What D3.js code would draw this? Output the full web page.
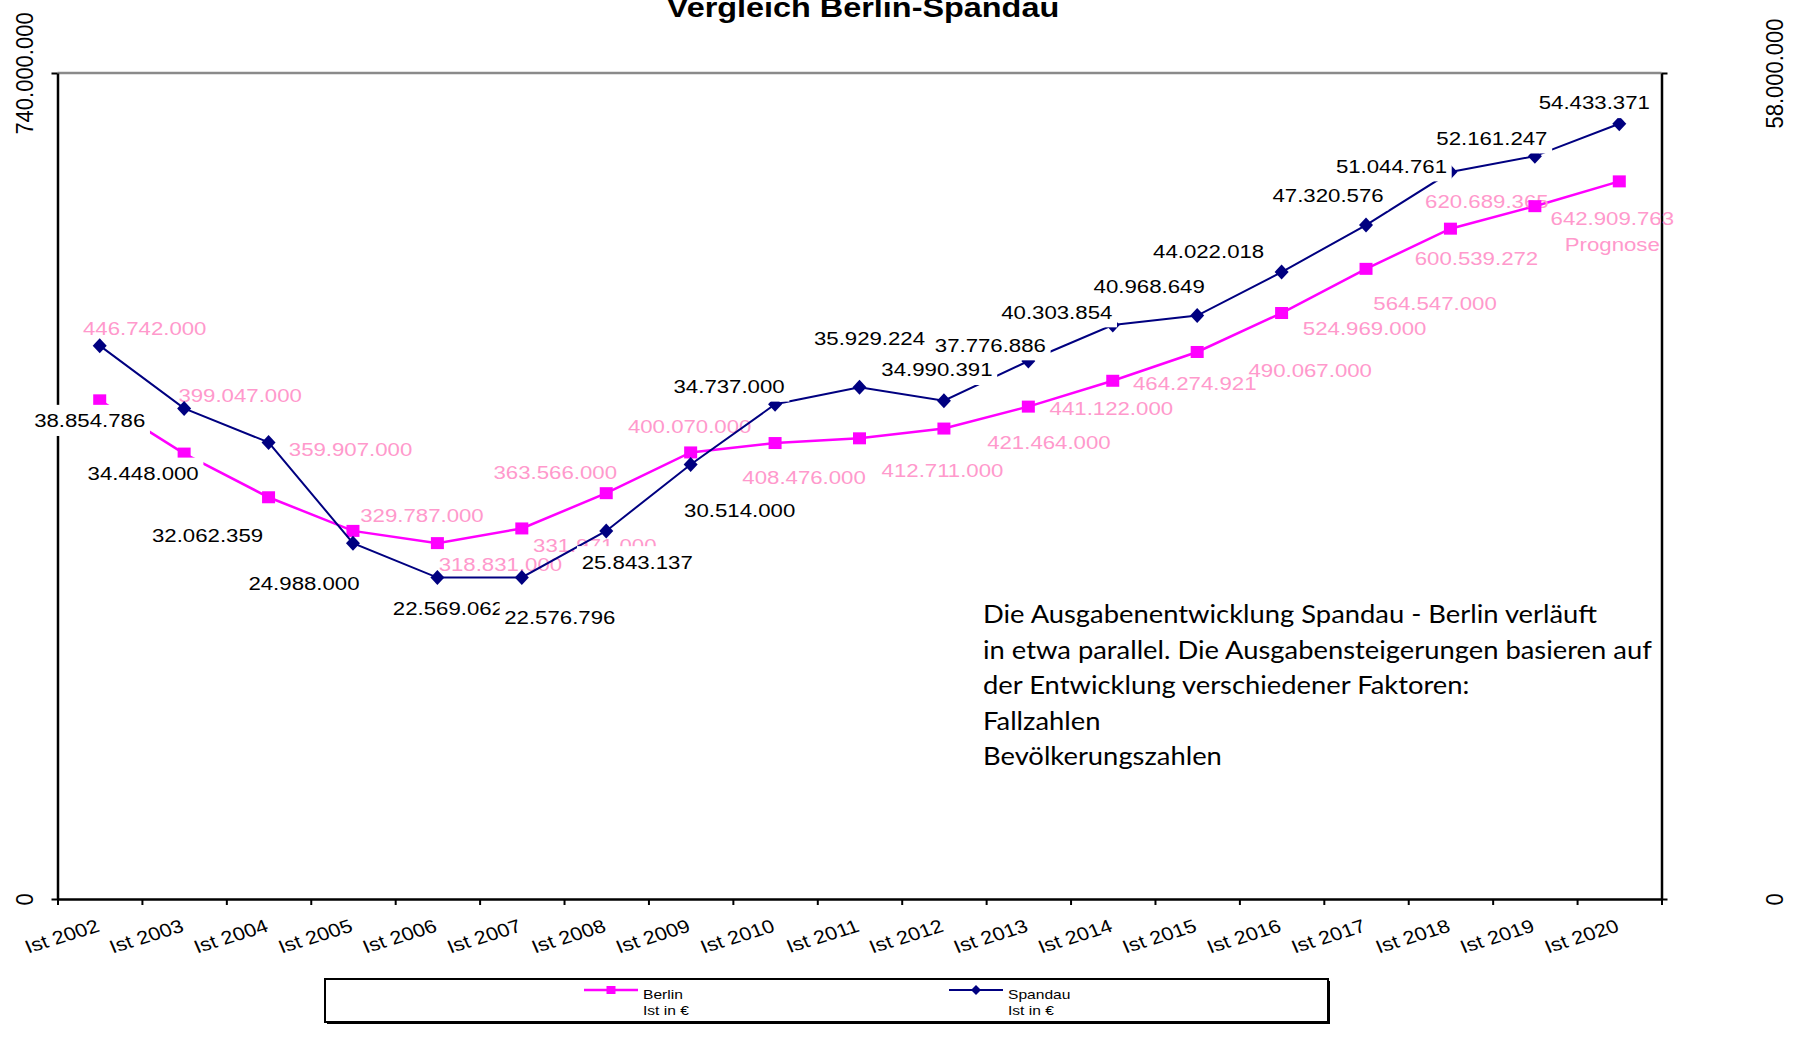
<!DOCTYPE html>
<html>
<head>
<meta charset="utf-8">
<script src="https://d3js.org/d3.v7.min.js"></script>
<style>
  body { margin: 0; background: #fff; }
  svg text { font-family: "Liberation Sans", Arial, sans-serif; }
</style>
</head>
<body>
<svg id="drawing_region"></svg>
<script>
const categories = ['Ist 2002', 'Ist 2003', 'Ist 2004', 'Ist 2005', 'Ist 2006', 'Ist 2007', 'Ist 2008',
    'Ist 2009', 'Ist 2010', 'Ist 2011', 'Ist 2012', 'Ist 2013', 'Ist 2014', 'Ist 2015', 'Ist 2016',
    'Ist 2017', 'Ist 2018', 'Ist 2019', 'Ist 2020'];
const berlin = [446742000, 399047000, 359907000, 329787000, 318831000, 331971000, 363566000,
    400070000, 408476000, 412711000, 421464000, 441122000, 464274921, 490067000, 524969000,
    564547000, 600539272, 620689365, 642909763];
const spandau = [38854786, 34448000, 32062359, 24988000, 22569062, 22576796, 25843137,
    30514000, 34737000, 35929224, 34990391, 37776886, 40303854, 40968649, 44022018,
    47320576, 51044761, 52161247, 54433371];
const leftTicks = [0, 740000000];
const rightTicks = [0, 58000000];
const seriesNames = ['Berlin', 'Spandau'];
const seriesUnit = 'Ist in €';
const forecastNote = 'Prognose';
const titleText = 'Vergleich Berlin-Spandau';
const noteLines = [
    'Die Ausgabenentwicklung Spandau - Berlin verläuft',
    'in etwa parallel. Die Ausgabensteigerungen basieren auf',
    'der Entwicklung verschiedener Faktoren:',
    'Fallzahlen',
    'Bevölkerungszahlen'
];

// where excel put the data labels (offset of label centre from the point, px)
const berlinLabelPos = [[45,-72],[56,-58],[82,-48],[69,-16],[63,21],[73,17],[-51,-21],[-1,-26],
    [29,34],[83,32],[105,14],[83,2],[82,3],[113,18],[83,15],[69,34],[26,30],[-48,-5],[-7,37]];
const spandauLabelPos = [[-10,75],[-41,65],[-61,93],[-49,40],[11,31],[38,40],[31,31],[49,46],
    [-46,-18],[10,-49],[-7,-31],[-38,-16],[-56,-13],[-48,-29],[-73,-21],[-38,-30],[-59,-6],[-43,-18],[-25,-21]];

const de = d3.formatLocale({decimal: ',', thousands: '.', grouping: [3], currency: ['', '€']});
const fmt = de.format(',d');
const STRETCH = 1.17;   // text in the old picture is a bit wider than plain arial

class ComboChart {

    constructor( config ) {
        this.config = config;
        this.init();
    }

    init() {
        let self = this;
        const c = self.config;

        self.svg = d3.select( c.parent )
            .attr('width', c.width)
            .attr('height', c.height);

        self.inner_width = c.width - c.margin.left - c.margin.right;
        self.inner_height = c.height - c.margin.top - c.margin.bottom;

        self.chart = self.svg.append('g')
            .attr('transform', `translate(${c.margin.left}, ${c.margin.top})`);

        self.xscale = d3.scaleBand()
            .domain(categories)
            .range([0, self.inner_width]);

        self.xtick = d3.scaleLinear()
            .domain([0, categories.length])
            .range([0, self.inner_width]);

        self.yleft = d3.scaleLinear()
            .domain(d3.extent(leftTicks))
            .range([self.inner_height, 0]);

        self.yright = d3.scaleLinear()
            .domain(d3.extent(rightTicks))
            .range([self.inner_height, 0]);
    }

    label( x, y, lines, color, boxed ) {
        let self = this;
        const g = self.chart.append('g')
            .attr('transform', `translate(${x}, ${y}) scale(${STRETCH}, 1)`);
        const t = g.append('text')
            .attr('text-anchor', 'middle')
            .attr('font-size', 19)
            .attr('fill', color);
        lines.forEach( (s, k) => {
            t.append('tspan')
                .attr('x', 0)
                .attr('dy', k == 0 ? '0.35em' : '1.37em')
                .text(s);
        });
        if (boxed) {
            const b = t.node().getBBox();
            g.insert('rect', 'text')
                .attr('x', b.x - 4).attr('y', b.y - 5)
                .attr('width', b.width + 8).attr('height', b.height + 10)
                .attr('fill', '#fff');
        }
    }

    render() {
        let self = this;
        const W = self.inner_width, H = self.inner_height;
        const cx = i => self.xscale(categories[i]) + self.xscale.bandwidth() / 2;

        // top border of plot area
        self.chart.append('line')
            .attr('x1', 0).attr('x2', W)
            .attr('y1', 0).attr('y2', 0)
            .attr('stroke', '#8a8a8a')
            .attr('stroke-width', 2.5);

        // category tick marks (between categories)
        const tickAxis = self.chart.append('g')
            .attr('transform', `translate(0, ${H})`)
            .call( d3.axisBottom(self.xtick)
                .tickValues(d3.range(categories.length + 1))
                .tickFormat('')
                .tickSizeInner(6)
                .tickSizeOuter(0) );
        tickAxis.select('.domain').attr('stroke', '#000').attr('stroke-width', 2.5);
        tickAxis.selectAll('.tick line').attr('stroke', '#000').attr('stroke-width', 2);

        // category labels
        const catAxis = self.chart.append('g')
            .attr('transform', `translate(0, ${H})`)
            .call( d3.axisBottom(self.xscale).tickSize(0) );
        catAxis.select('.domain').remove();
        catAxis.selectAll('text')
            .attr('x', 0).attr('y', 0).attr('dy', 0)
            .attr('text-anchor', 'end')
            .attr('font-size', 18.5)
            .attr('fill', '#000')
            .attr('transform', `translate(1, 32) scale(${STRETCH}, 1) rotate(-20)`);

        // left axis
        const leftAxis = self.chart.append('g')
            .call( d3.axisLeft(self.yleft)
                .tickValues(leftTicks)
                .tickFormat(fmt)
                .tickSizeInner(6)
                .tickSizeOuter(0) );
        leftAxis.select('.domain').attr('stroke', '#000').attr('stroke-width', 2.5);
        leftAxis.selectAll('.tick line').attr('stroke', '#000').attr('stroke-width', 2);
        leftAxis.selectAll('text')
            .attr('x', 0).attr('y', 0).attr('dy', 0)
            .attr('text-anchor', 'middle')
            .attr('font-size', 22)
            .attr('fill', '#000')
            .attr('transform', `translate(-24.5, 0) scale(1.08, 1) rotate(-90)`);

        // right axis
        const rightAxis = self.chart.append('g')
            .attr('transform', `translate(${W}, 0)`)
            .call( d3.axisRight(self.yright)
                .tickValues(rightTicks)
                .tickFormat(fmt)
                .tickSizeInner(6)
                .tickSizeOuter(0) );
        rightAxis.select('.domain').attr('stroke', '#000').attr('stroke-width', 2.5);
        rightAxis.selectAll('.tick line').attr('stroke', '#000').attr('stroke-width', 2);
        rightAxis.selectAll('text')
            .attr('x', 0).attr('y', 0).attr('dy', 0)
            .attr('text-anchor', 'middle')
            .attr('font-size', 22)
            .attr('fill', '#000')
            .attr('transform', `translate(121.5, 0) scale(1.08, 1) rotate(-90)`);

        // Berlin
        const lineL = d3.line()
            .x( (d, i) => cx(i) )
            .y( d => self.yleft(d) );

        self.chart.append('path')
            .attr('d', lineL(berlin))
            .attr('stroke', '#ff00ff')
            .attr('stroke-width', 2.5)
            .attr('fill', 'none');

        berlin.forEach( (d, i) => {
            const lines = [fmt(d)];
            if (i == berlin.length - 1) lines.push(forecastNote);
            self.label(cx(i) + berlinLabelPos[i][0], self.yleft(d) + berlinLabelPos[i][1], lines, '#ff99cc', false);
        });

        self.chart.selectAll('rect.berlin')
            .data(berlin)
            .enter()
            .append('rect')
            .attr('class', 'berlin')
            .attr('x', (d, i) => cx(i) - 6.5)
            .attr('y', d => self.yleft(d) - 6)
            .attr('width', 13)
            .attr('height', 12)
            .attr('fill', '#ff00ff');

        // Spandau
        const lineR = d3.line()
            .x( (d, i) => cx(i) )
            .y( d => self.yright(d) );

        self.chart.append('path')
            .attr('d', lineR(spandau))
            .attr('stroke', '#000080')
            .attr('stroke-width', 2)
            .attr('fill', 'none');

        self.chart.selectAll('path.spandau')
            .data(spandau)
            .enter()
            .append('path')
            .attr('class', 'spandau')
            .attr('d', 'M0,-7.5L7,0L0,7.5L-7,0Z')
            .attr('transform', (d, i) => `translate(${cx(i)}, ${self.yright(d)})`)
            .attr('fill', '#000080');

        spandau.forEach( (d, i) => {
            self.label(cx(i) + spandauLabelPos[i][0], self.yright(d) + spandauLabelPos[i][1], [fmt(d)], '#000', true);
        });

        // title
        self.svg.append('text')
            .attr('transform', `translate(863, 17) scale(1.2, 1)`)
            .attr('text-anchor', 'middle')
            .attr('font-size', 27)
            .attr('font-weight', 'bold')
            .text(titleText);

        // note text box
        const note = self.svg.append('g');
        const noteText = note.append('text')
            .style('font-family', 'Lato, "Open Sans", sans-serif')
            .attr('font-size', 25)
            .attr('fill', '#000');
        noteLines.forEach( (s, k) => {
            noteText.append('tspan').attr('x', 0).attr('y', k * 35.6).text(s);
        });
        const w2 = noteText.selectAll('tspan').nodes()[1].getComputedTextLength();
        note.attr('transform', `translate(983, 623) scale(${669 / w2}, 1)`);

        // legend
        const lg = self.svg.append('g');
        lg.append('rect')
            .attr('x', 327).attr('y', 981)
            .attr('width', 1003).attr('height', 43)
            .attr('fill', '#000');
        lg.append('rect')
            .attr('x', 325).attr('y', 979)
            .attr('width', 1003).attr('height', 43)
            .attr('fill', '#fff')
            .attr('stroke', '#000')
            .attr('stroke-width', 2);

        const items = [
            {name: seriesNames[0], x: 584, color: '#ff00ff', marker: 'M-4.5,-4L4.5,-4L4.5,4L-4.5,4Z', width: 2.5},
            {name: seriesNames[1], x: 949, color: '#000080', marker: 'M0,-5L5,0L0,5L-5,0Z', width: 2}
        ];
        items.forEach( it => {
            lg.append('line')
                .attr('x1', it.x).attr('x2', it.x + 54)
                .attr('y1', 990).attr('y2', 990)
                .attr('stroke', it.color)
                .attr('stroke-width', it.width);
            lg.append('path')
                .attr('d', it.marker)
                .attr('transform', `translate(${it.x + 27}, 990)`)
                .attr('fill', it.color);
            const t = lg.append('text')
                .attr('transform', `translate(${it.x + 59}, 999) scale(1.2, 1)`)
                .attr('font-size', 13)
                .attr('fill', '#000');
            t.append('tspan').attr('x', 0).attr('y', 0).text(it.name);
            t.append('tspan').attr('x', 0).attr('y', 16).text(seriesUnit);
        });
    }
}

const chart = new ComboChart({
    parent: '#drawing_region',
    width: 1793,
    height: 1041,
    margin: {top: 73, right: 131.5, bottom: 142, left: 57.5}
});
chart.render();
</script>
</body>
</html>
